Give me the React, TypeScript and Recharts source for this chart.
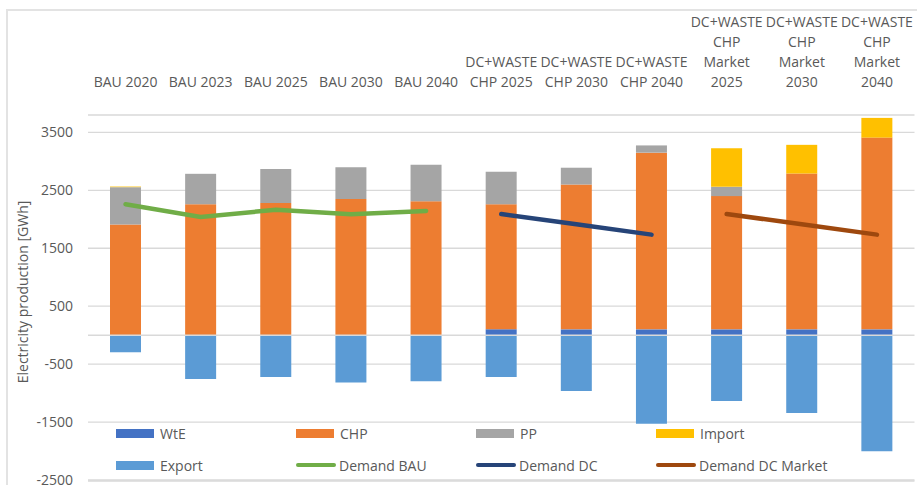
import React from 'react';
import {
  ComposedChart,
  Bar,
  Line,
  XAxis,
  YAxis,
  CartesianGrid,
  ReferenceLine,
  Legend,
  Label,
} from 'recharts';

// ---- data ----
const categories = [
  'BAU 2020',
  'BAU 2023',
  'BAU 2025',
  'BAU 2030',
  'BAU 2040',
  'DC+WASTE\nCHP 2025',
  'DC+WASTE\nCHP 2030',
  'DC+WASTE\nCHP 2040',
  'DC+WASTE\nCHP\nMarket\n2025',
  'DC+WASTE\nCHP\nMarket\n2030',
  'DC+WASTE\nCHP\nMarket\n2040',
];
const wte = [0, 0, 0, 0, 0, 100, 100, 100, 100, 100, 100];
const chp = [1910, 2260, 2280, 2350, 2310, 2160, 2500, 3050, 2300, 2690, 3310];
const pp = [645, 525, 590, 550, 630, 560, 290, 125, 160, 0, 0];
const importE = [10, 0, 0, 0, 0, 0, 0, 0, 665, 495, 340];
const exportE = [-295, -755, -720, -815, -795, -720, -965, -1530, -1135, -1345, -2005];
const demandBAU = [2260, 2040, 2165, 2085, 2145, null, null, null, null, null, null];
const demandDC = [null, null, null, null, null, 2090, 1915, 1735, null, null, null];
const demandDCMarket = [null, null, null, null, null, null, null, null, 2090, 1915, 1735];
const yTicks = [-2500, -1500, -500, 500, 1500, 2500, 3500];
const yLabel = 'Electricity production [GWh]';

const data = categories.map((name, i) => ({
  name,
  WtE: wte[i],
  CHP: chp[i],
  PP: pp[i],
  Import: importE[i],
  Export: exportE[i],
  'Demand BAU': demandBAU[i],
  'Demand DC': demandDC[i],
  'Demand DC Market': demandDCMarket[i],
}));

// ---- styles ----
const FONT = '"Open Sans", sans-serif';
const TEXT = '#595959';
const GRID = '#d9d9d9';
const COLORS: Record<string, string> = {
  WtE: '#4472C4',
  CHP: '#ED7D31',
  PP: '#A5A5A5',
  Import: '#FFC000',
  Export: '#5B9BD5',
  'Demand BAU': '#70AD47',
  'Demand DC': '#264478',
  'Demand DC Market': '#9E480E',
};
const legendItems = [
  { name: 'WtE', kind: 'rect' },
  { name: 'CHP', kind: 'rect' },
  { name: 'PP', kind: 'rect' },
  { name: 'Import', kind: 'rect' },
  { name: 'Export', kind: 'rect' },
  { name: 'Demand BAU', kind: 'line' },
  { name: 'Demand DC', kind: 'line' },
  { name: 'Demand DC Market', kind: 'line' },
];

const CategoryTick = (props: any) => {
  const { x, payload } = props;
  const lines = String(payload.value).split('\n');
  const n = lines.length;
  return (
    <text x={x} textAnchor="middle" fill={TEXT} fontSize={14} fontFamily={FONT}>
      {lines.map((l, i) => (
        <tspan key={i} x={x} y={86.5 - (n - 1 - i) * 19.8}>
          {l}
        </tspan>
      ))}
    </text>
  );
};

const LegendContent = () => (
  <div style={{ position: 'relative', width: 917, height: 64, fontFamily: FONT, fontSize: 14, color: TEXT }}>
    {legendItems.map((it, i) => {
      const col = i % 4;
      const row = Math.floor(i / 4);
      const left = 116 + col * 180;
      const top = row * 32;
      return (
        <div
          key={it.name}
          style={{ position: 'absolute', left, top, height: 20, display: 'flex', alignItems: 'center', whiteSpace: 'nowrap' }}
        >
          {it.kind === 'rect' ? (
            <div style={{ width: 38, height: 9, background: COLORS[it.name], marginRight: 6 }} />
          ) : (
            <div style={{ width: 40, height: 4.5, borderRadius: 3, background: COLORS[it.name], marginRight: 3 }} />
          )}
          <span>{it.name}</span>
        </div>
      );
    })}
  </div>
);

export default function App() {
  return (
    <div style={{ position: 'absolute', left: 0, top: 0, width: 917, height: 485, background: '#fff' }}>
      <div style={{ position: 'absolute', left: 6, top: 9, width: 2, height: 476, background: '#e3e3e3' }} />
      <div style={{ position: 'absolute', left: 6, top: 9, width: 911, height: 2, background: '#e3e3e3' }} />
      <ComposedChart
        width={917}
        height={485}
        data={data}
        stackOffset="sign"
        margin={{ top: 0, right: 2.5, bottom: 4, left: 0 }}
        barSize={31}
      >
        <CartesianGrid horizontal vertical={false} stroke={GRID} strokeWidth={1.3} />
        <XAxis
          dataKey="name"
          orientation="top"
          height={115}
          interval={0}
          axisLine={false}
          tickLine={false}
          tick={<CategoryTick />}
        />
        <YAxis
          type="number"
          domain={[-2517, 3800]}
          ticks={yTicks}
          interval={0}
          width={88}
          axisLine={false}
          tickLine={false}
          tickSize={0}
          tickMargin={15}
          tick={{ fill: TEXT, fontSize: 14, fontFamily: FONT }}
        >
          <Label
            content={() => (
              <text
                x={22}
                y={292}
                transform="rotate(-90, 22, 292)"
                textAnchor="middle"
                dominantBaseline="central"
                fill={TEXT}
                fontSize={14}
                fontFamily={FONT}
              >
                {yLabel}
              </text>
            )}
          />
        </YAxis>
        <ReferenceLine y={0} stroke={GRID} strokeWidth={1.5} />
        <Bar dataKey="WtE" stackId="s" fill={COLORS.WtE} isAnimationActive={false} />
        <Bar dataKey="CHP" stackId="s" fill={COLORS.CHP} isAnimationActive={false} />
        <Bar dataKey="PP" stackId="s" fill={COLORS.PP} isAnimationActive={false} />
        <Bar dataKey="Import" stackId="s" fill={COLORS.Import} isAnimationActive={false} />
        <Bar dataKey="Export" stackId="s" fill={COLORS.Export} isAnimationActive={false} />
        <Line
          dataKey="Demand BAU"
          stroke={COLORS['Demand BAU']}
          strokeWidth={4.5}
          strokeLinecap="round"
          dot={false}
          activeDot={false}
          isAnimationActive={false}
        />
        <Line
          dataKey="Demand DC"
          stroke={COLORS['Demand DC']}
          strokeWidth={4.5}
          strokeLinecap="round"
          dot={false}
          activeDot={false}
          isAnimationActive={false}
        />
        <Line
          dataKey="Demand DC Market"
          stroke={COLORS['Demand DC Market']}
          strokeWidth={4.5}
          strokeLinecap="round"
          dot={false}
          activeDot={false}
          isAnimationActive={false}
        />
        <Legend
          layout="horizontal"
          verticalAlign="middle"
          align="center"
          content={<LegendContent />}
          wrapperStyle={{ position: 'absolute', left: 0, top: 423, width: 917, height: 64 }}
        />
      </ComposedChart>
    </div>
  );
}
